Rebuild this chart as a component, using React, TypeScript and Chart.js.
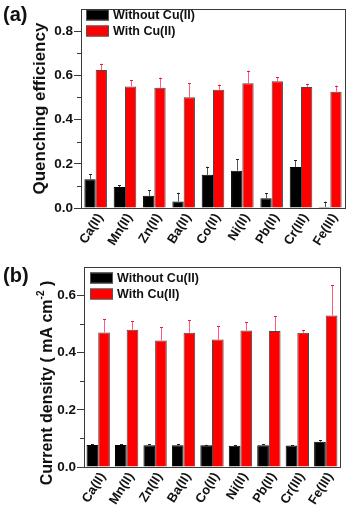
import React, { useEffect, useRef } from 'react';
import { Chart, registerables } from 'chart.js';

Chart.register(...registerables);

const categories = ['Ca(II)', 'Mn(II)', 'Zn(II)', 'Ba(II)', 'Co(II)', 'Ni(II)', 'Pb(II)', 'Cr(III)', 'Fe(III)'];
const seriesNames = ['Without Cu(II)', 'With Cu(II)'];

const quenchWithout = [0.13, 0.095, 0.055, 0.029, 0.15, 0.169, 0.044, 0.185, 0.004];
const quenchWithoutErr = [0.022, 0.008, 0.025, 0.04, 0.037, 0.051, 0.022, 0.032, 0.025];
const quenchWith = [0.625, 0.55, 0.544, 0.501, 0.535, 0.564, 0.574, 0.548, 0.526];
const quenchWithErr = [0.028, 0.027, 0.046, 0.063, 0.023, 0.058, 0.019, 0.014, 0.028];

const currentWithout = [0.077, 0.077, 0.076, 0.076, 0.076, 0.074, 0.076, 0.075, 0.088];
const currentWithoutErr = [0.003, 0.003, 0.003, 0.003, 0.002, 0.003, 0.004, 0.002, 0.005];
const currentWith = [0.471, 0.48, 0.443, 0.47, 0.446, 0.478, 0.476, 0.47, 0.53];
const currentWithErr = [0.046, 0.031, 0.047, 0.045, 0.048, 0.028, 0.052, 0.008, 0.106];

const quenchTicks = [0, 0.2, 0.4, 0.6, 0.8];
const quenchMinor = [0.1, 0.3, 0.5, 0.7];
const currentTicks = [0, 0.2, 0.4, 0.6];
const currentMinor = [0.1, 0.3, 0.5];

const FONT = "'Liberation Sans', Arial, sans-serif";

type TitlePart = { text: string; sup?: boolean };

type PanelCfg = {
  panel: string;
  panelY: number;
  title: TitlePart[];
  titleX: number;
  titleShift: number;
  titleSize: number;
  without: number[];
  withoutErr: number[];
  withV: number[];
  withErr: number[];
  ticks: number[];
  minor: number[];
  max: number;
  height: number;
  padTop: number;
  padRight: number;
  yWidth: number;
  xHeight: number;
  catPct: number;
  legendX: number;
  legendY: number;
};

function makeChart(canvas: HTMLCanvasElement, cfg: PanelCfg) {
  const decor = {
    id: 'decor',
    afterDatasetsDraw(chart: any) {
      const ctx = chart.ctx;
      const ys = chart.scales.y;
      const errs = [cfg.withoutErr, cfg.withErr];
      const lineCols = ['#555555', '#ff5a80'];
      const capCols = ['#222222', '#e0204a'];
      ctx.save();
      for (let d = 0; d < 2; d++) {
        const meta = chart.getDatasetMeta(d);
        const vals = chart.data.datasets[d].data as number[];
        meta.data.forEach((el: any, j: number) => {
          const x = Math.round(el.x) + 0.5;
          const y0 = ys.getPixelForValue(vals[j]);
          const y1 = ys.getPixelForValue(vals[j] + errs[d][j]);
          ctx.strokeStyle = lineCols[d];
          ctx.lineWidth = 1;
          ctx.beginPath();
          ctx.moveTo(x, y0);
          ctx.lineTo(x, y1);
          ctx.stroke();
          ctx.strokeStyle = capCols[d];
          ctx.beginPath();
          ctx.moveTo(x - 1.5, Math.round(y1) + 0.5);
          ctx.lineTo(x + 1.5, Math.round(y1) + 0.5);
          ctx.stroke();
        });
      }
      ctx.restore();
    },
    afterDraw(chart: any) {
      const ctx = chart.ctx;
      const a = chart.chartArea;
      const ys = chart.scales.y;
      const xs = chart.scales.x;
      ctx.save();
      // frame
      ctx.strokeStyle = '#3a3a3a';
      ctx.lineWidth = 1;
      ctx.strokeRect(Math.round(a.left) + 0.5, Math.round(a.top) + 0.5, Math.round(a.right - a.left), Math.round(a.bottom - a.top));
      // minor ticks
      cfg.minor.forEach((v) => {
        const y = Math.round(ys.getPixelForValue(v)) + 0.5;
        ctx.beginPath();
        ctx.moveTo(a.left - 4, y);
        ctx.lineTo(a.left, y);
        ctx.stroke();
      });
      // x category labels (rotated)
      ctx.fillStyle = '#111111';
      ctx.font = `bold 13px ${FONT}`;
      ctx.textAlign = 'right';
      ctx.textBaseline = 'middle';
      categories.forEach((c, i) => {
        const px = xs.getPixelForValue(i);
        ctx.save();
        ctx.translate(px + 4.5, a.bottom + 7);
        ctx.rotate((-58 * Math.PI) / 180);
        ctx.fillText(c, 0, 0);
        ctx.restore();
      });
      // legend
      const cols = ['#000000', '#ff0000'];
      ctx.font = `bold 12.5px ${FONT}`;
      ctx.textBaseline = 'middle';
      ctx.textAlign = 'left';
      seriesNames.forEach((name, i) => {
        const cy = cfg.legendY + i * 16;
        ctx.fillStyle = cols[i];
        ctx.fillRect(cfg.legendX, cy - 5.5, 23, 11);
        ctx.strokeStyle = '#555555';
        ctx.strokeRect(cfg.legendX + 0.5, cy - 5, 22, 10);
        ctx.fillStyle = '#111111';
        ctx.fillText(name, cfg.legendX + 27, cy + 0.5);
      });
      // panel label
      ctx.font = `bold 20px ${FONT}`;
      ctx.fillStyle = '#111111';
      ctx.fillText(cfg.panel, 3, cfg.panelY);
      // y title
      ctx.translate(cfg.titleX, (a.top + a.bottom) / 2 + cfg.titleShift);
      ctx.rotate(-Math.PI / 2);
      const fMain = `bold ${cfg.titleSize}px ${FONT}`;
      const fSup = `bold ${Math.round(cfg.titleSize * 0.65)}px ${FONT}`;
      let total = 0;
      cfg.title.forEach((p) => {
        ctx.font = p.sup ? fSup : fMain;
        total += ctx.measureText(p.text).width;
      });
      let x = -total / 2;
      cfg.title.forEach((p) => {
        ctx.font = p.sup ? fSup : fMain;
        ctx.fillText(p.text, x, p.sup ? -7 : 0);
        x += ctx.measureText(p.text).width;
      });
      ctx.restore();
    },
  };

  return new Chart(canvas, {
    type: 'bar',
    data: {
      labels: categories,
      datasets: [
        {
          label: seriesNames[0],
          data: cfg.without,
          backgroundColor: '#000000',
          borderColor: '#000000',
          borderWidth: 1,
          barPercentage: 1,
          categoryPercentage: cfg.catPct,
        },
        {
          label: seriesNames[1],
          data: cfg.withV,
          backgroundColor: '#ff0000',
          borderColor: '#4a4a4a',
          borderWidth: 1,
          barPercentage: 1,
          categoryPercentage: cfg.catPct,
        },
      ],
    },
    options: {
      responsive: false,
      animation: false,
      layout: { padding: { top: cfg.padTop, right: cfg.padRight, left: 0, bottom: 0 } },
      plugins: { legend: { display: false }, tooltip: { enabled: false } },
      scales: {
        x: {
          grid: { display: false },
          border: { display: true, color: '#3a3a3a', width: 1 },
          ticks: { display: false },
          afterFit: (s: any) => {
            s.height = cfg.xHeight;
          },
        },
        y: {
          min: 0,
          max: cfg.max,
          afterBuildTicks: (s: any) => {
            s.ticks = cfg.ticks.map((v) => ({ value: v }));
          },
          ticks: {
            color: '#111111',
            font: { family: FONT, weight: 'bold', size: 13.5 },
            padding: 1,
            callback: (v: any) => Number(v).toFixed(1),
          },
          grid: { drawOnChartArea: false, drawTicks: true, tickLength: 7, color: '#3a3a3a' },
          border: { display: true, color: '#3a3a3a', width: 1 },
          afterFit: (s: any) => {
            s.width = cfg.yWidth;
          },
        },
      },
    },
    plugins: [decor],
  } as any);
}

const panelA: PanelCfg = {
  panel: '(a)',
  panelY: 15,
  title: [{ text: 'Quenching efficiency' }],
  titleX: 40,
  titleShift: 0,
  titleSize: 17,
  without: quenchWithout,
  withoutErr: quenchWithoutErr,
  withV: quenchWith,
  withErr: quenchWithErr,
  ticks: quenchTicks,
  minor: quenchMinor,
  max: 0.9,
  height: 250,
  padTop: 2,
  padRight: 2,
  yWidth: 81,
  xHeight: 42,
  catPct: 0.77,
  legendX: 86,
  legendY: 15,
};

const panelB: PanelCfg = {
  panel: '(b)',
  panelY: 26,
  title: [{ text: 'Current density ( mA cm' }, { text: '-2', sup: true }, { text: ' )' }],
  titleX: 48,
  titleShift: 16,
  titleSize: 16,
  without: currentWithout,
  withoutErr: currentWithoutErr,
  withV: currentWith,
  withErr: currentWithErr,
  ticks: currentTicks,
  minor: currentMinor,
  max: 0.7,
  height: 257,
  padTop: 17,
  padRight: 7,
  yWidth: 84,
  xHeight: 40,
  catPct: 0.82,
  legendX: 90,
  legendY: 28,
};

function Panel({ cfg, top }: { cfg: PanelCfg; top: number }) {
  const ref = useRef<HTMLCanvasElement | null>(null);
  useEffect(() => {
    if (!ref.current) return;
    const chart = makeChart(ref.current, cfg);
    return () => chart.destroy();
  }, [cfg]);
  return (
    <canvas
      ref={ref}
      width={347}
      height={cfg.height}
      style={{ position: 'absolute', left: 0, top, width: 347, height: cfg.height, display: 'block' }}
    />
  );
}

export default function App() {
  return (
    <div style={{ position: 'absolute', left: 0, top: 0, width: 347, height: 507, background: '#ffffff' }}>
      <Panel cfg={panelA} top={0} />
      <Panel cfg={panelB} top={250} />
    </div>
  );
}
